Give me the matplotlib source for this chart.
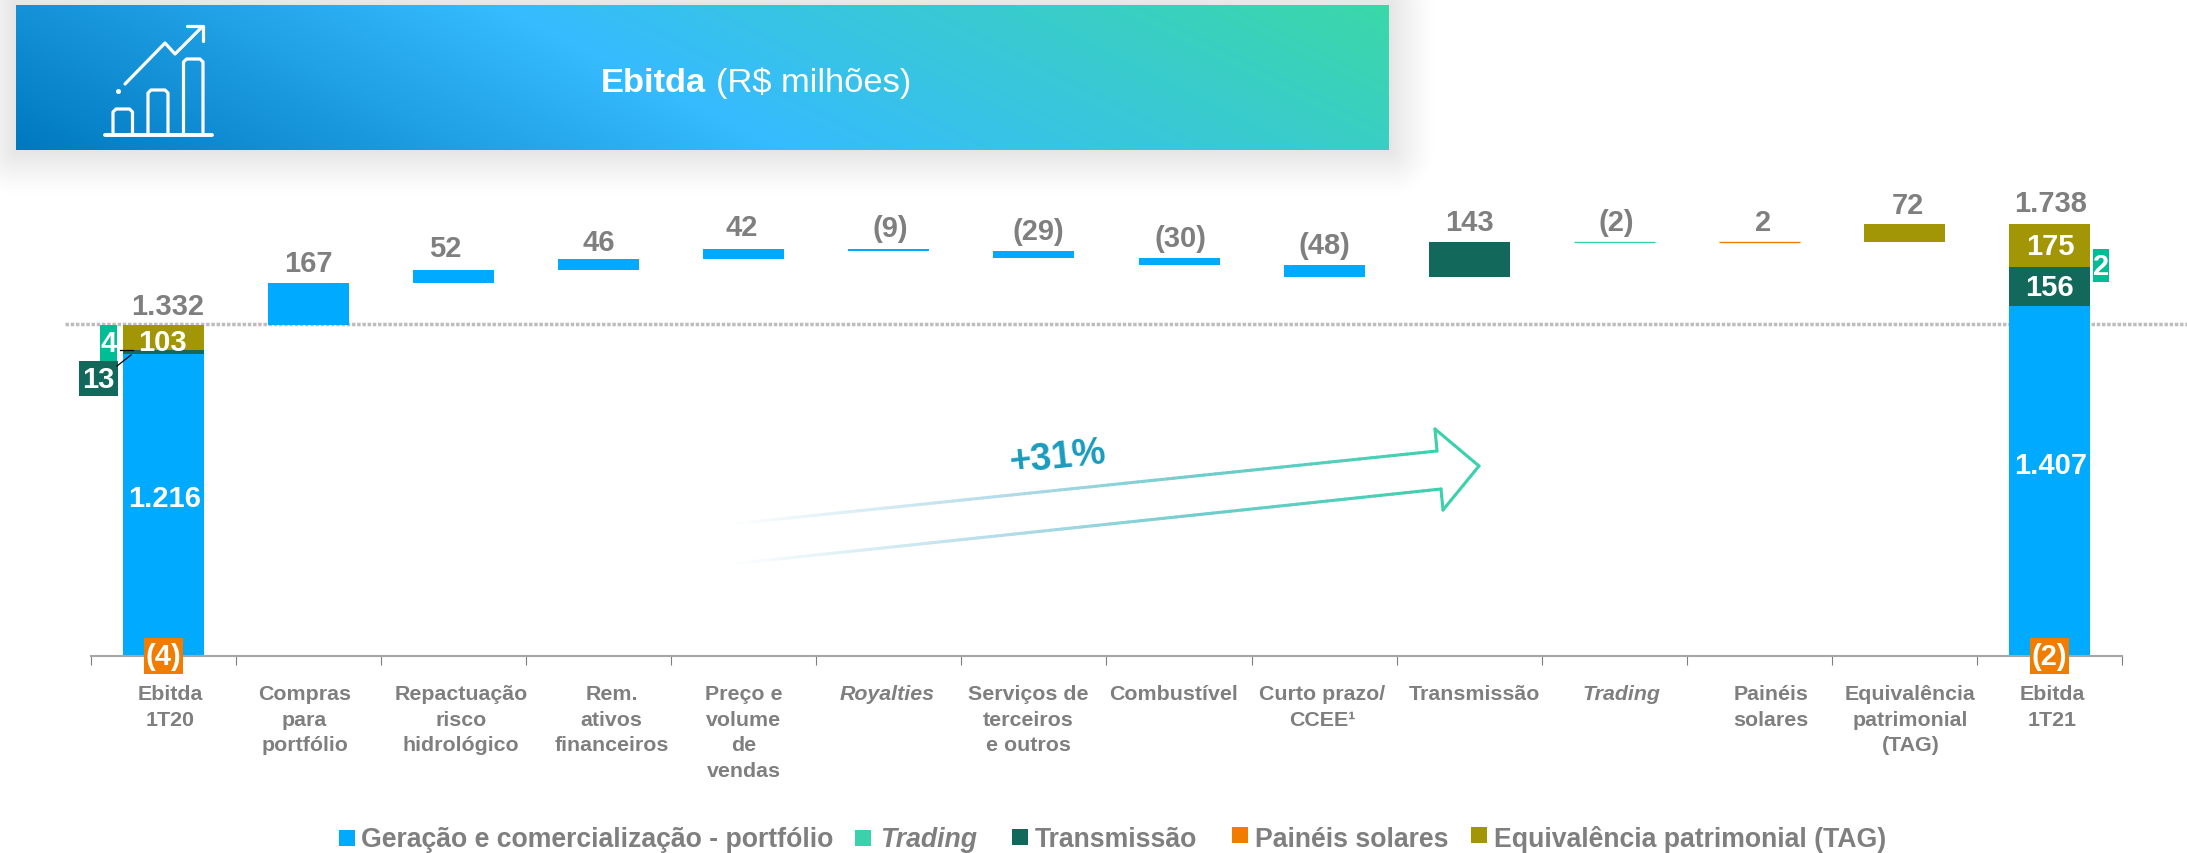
import numpy as np
import matplotlib
matplotlib.use('Agg')
import matplotlib.pyplot as plt
from matplotlib.patches import Rectangle
from matplotlib.collections import LineCollection
from matplotlib.colors import to_rgb

plt.rcParams['font.family'] = ['Liberation Sans', 'DejaVu Sans']

# ============================================================
# DATA
# ============================================================
categories = ['Ebitda\n1T20', 'Compras\npara\nportfólio', 'Repactuação\nrisco\nhidrológico',
              'Rem.\nativos\nfinanceiros', 'Preço e\nvolume\nde\nvendas', 'Royalties',
              'Serviços de\nterceiros\ne outros', 'Combustível', 'Curto prazo/\nCCEE¹',
              'Transmissão', 'Trading', 'Painéis\nsolares',
              'Equivalência\npatrimonial\n(TAG)', 'Ebitda\n1T21']
italic_categories = ['Royalties', 'Trading']

# stacked totals: portfolio, transmission, equity income
total_1t20 = [1216, 13, 103]
total_1t21 = [1407, 156, 175]
total_labels = ['1.332', '1.738']
stack_labels_1t20 = ['1.216', '', '103']
stack_labels_1t21 = ['1.407', '156', '175']

# bridge steps between the totals
steps = [167, 52, 46, 42, -9, -29, -30, -48, 143, -2, 2, 72]
step_labels = ['167', '52', '46', '42', '(9)', '(29)', '(30)', '(48)', '143', '(2)', '2', '72']
step_series = ['gen', 'gen', 'gen', 'gen', 'gen', 'gen', 'gen', 'gen', 'trans', 'trad', 'solar', 'tag']

legend_names = ['Geração e comercialização - portfólio', 'Trading', 'Transmissão',
                'Painéis solares', 'Equivalência patrimonial (TAG)']
growth_label = '+31%'

# ============================================================
# STYLE
# ============================================================
W, H = 2187, 854
colors = {'gen': '#00aaff', 'trad': '#3bd1ac', 'trans': '#12695b', 'solar': '#f07d00', 'tag': '#a39606'}
stack_colors = [colors['gen'], colors['trans'], colors['tag']]
GREY = '#7f7f7f'
VALUE_FS = 21
CAT_FS = 15.4

fig = plt.figure(figsize=(W / 100, H / 100), dpi=100, facecolor='white')

# main axes: baseline at y=657 px, one category = 145 px
ax = fig.add_axes([91 / W, (H - 657) / H, (2122 - 91) / W, (657 - 209.5) / H], zorder=1)
ax.set_xlim(-0.5, 13.5)
ax.set_ylim(0, 1800)
ax.patch.set_alpha(0)

# pixel overlay for header, legend and callout boxes
ov = fig.add_axes([0, 0, 1, 1], zorder=2)
ov.patch.set_alpha(0)
ov.axis('off')


def setpx():
    ov.set_xlim(0, W)
    ov.set_ylim(H, 0)


setpx()

# ============================================================
# BARS
# ============================================================
ax.plot([-0.679, 13.95], [1335, 1335], color='#bdbdbd', lw=2.5, linestyle=(0, (1, 0.5)),
        clip_on=False, zorder=1)

bar_w = 81 / 145.07
for x, stack in ((0, total_1t20), (13, total_1t21)):
    bottom = 0
    for v, c in zip(stack, stack_colors):
        ax.bar(x, v, bottom=bottom, width=bar_w, color=c, zorder=2)
        bottom += v

running = sum(total_1t20)
tops = [running]
for i, (v, s) in enumerate(zip(steps, step_series)):
    lo = min(running, running + v)
    lw = 1.0 if abs(v) < 5 else 0
    ax.bar(i + 1, abs(v), bottom=lo, width=bar_w, color=colors[s], edgecolor=colors[s],
           linewidth=lw, zorder=2)
    tops.append(lo + abs(v))
    running += v
tops.append(sum(total_1t21))

# ============================================================
# VALUE LABELS
# ============================================================
all_labels = [total_labels[0]] + step_labels + [total_labels[1]]
label_dx = [4.5, 0, -8, 0, -2, 1, 4, 1, 0, 0, 2, 4, 3.5, 1]
label_dy = [19, 20, 22, 17, 22, 21, 20, 20, 20, 20, 20, 20, 19, 21]
for i, (lab, top) in enumerate(zip(all_labels, tops)):
    ax.annotate(lab, xy=(i, top), xytext=(label_dx[i], label_dy[i]), textcoords='offset pixels',
                ha='center', va='center', fontsize=VALUE_FS, fontweight='bold', color=GREY,
                annotation_clip=False)


def stack_text(x, stack, labels, dxs, dys):
    bottom = 0
    for v, lab, dx, dy in zip(stack, labels, dxs, dys):
        if lab:
            ax.annotate(lab, xy=(x, bottom + v / 2), xytext=(dx, dy), textcoords='offset pixels',
                        ha='center', va='center', fontsize=VALUE_FS, fontweight='bold',
                        color='white', zorder=5)
        bottom += v


stack_text(0, total_1t20, stack_labels_1t20, [1.5, 0, -1.5], [7, 0, -4])
stack_text(13, total_1t21, stack_labels_1t21, [1, 0, 1], [16, 0, 0])

# ============================================================
# X AXIS
# ============================================================
for s in ('top', 'left', 'right'):
    ax.spines[s].set_visible(False)
ax.spines['bottom'].set_color('#a6a6a6')
ax.spines['bottom'].set_linewidth(1.5)
ax.set_yticks([])
ax.set_xticks(np.arange(-0.5, 14, 1))
ax.set_xticklabels([])
ax.tick_params(axis='x', length=6.5, width=0.8, color='#7f7f7f')

cat_dx = [6.5, -4, 7.5, 13, 0, -2, -6, -6, -2, 5, 7.5, 12, 6, 2.5]
for i, name in enumerate(categories):
    style = 'italic' if name in italic_categories else 'normal'
    ax.annotate(name, xy=(i, 0), xytext=(cat_dx[i], -28), textcoords='offset pixels',
                ha='center', va='top', fontsize=CAT_FS, fontweight='bold', fontstyle=style,
                color=GREY, linespacing=1.44, annotation_clip=False)

# ============================================================
# CALLOUT BOXES
# ============================================================
boxes = [(100, 326, 17, 36, '#00bd96', '4', 108.5, 344),
         (79, 362, 39, 35, colors['trans'], '13', 98, 380),
         (2093, 250, 16, 33, '#00bd96', '2', 2101, 267),
         (144, 639, 39, 36, colors['solar'], '(4)', 163.5, 657),
         (2030, 639, 39, 36, colors['solar'], '(2)', 2049.5, 657)]
for x0, y0, w, h, c, lab, tx, ty in boxes:
    ov.add_patch(Rectangle((x0, y0), w, h, facecolor=c, edgecolor='none', zorder=3))
    ov.text(tx, ty, lab, ha='center', va='center', color='white', fontsize=VALUE_FS,
            fontweight='bold', zorder=4)
ov.plot([120, 133], [351, 351], color='black', lw=0.9, zorder=5)
ov.plot([117, 131], [367, 356], color='black', lw=0.9, zorder=5)

# ============================================================
# HEADER BANNER
# ============================================================
x0, x1, y0, y1 = 16, 1389, 6, 151

# soft grey shadow
sx, sy = np.meshgrid(np.arange(0, 1445), np.arange(0, 205))
dx_s = np.maximum(np.maximum(x0 - sx, sx - x1), 0)
dy_s = np.maximum(np.maximum(y0 - sy, sy - y1), 0)
dist = np.hypot(dx_s, dy_s)
shadow = np.zeros(sx.shape + (4,))
shadow[..., 3] = 0.105 * np.clip(1 - dist / 48, 0, 1) ** 1.3
ov.imshow(shadow, extent=(0, 1445, 205, 0), aspect='auto', zorder=0.5, interpolation='bilinear')

# diagonal gradient
gx, gy = np.meshgrid(np.linspace(0, x1 - x0, 400), np.linspace(0, y1 - y0, 100))
t = (gx + 2 * (y1 - y0 - gy)) / (x1 - x0 + 2 * (y1 - y0))
stops = [0, 0.46, 1]
stop_cols = np.array([to_rgb('#0078bf'), to_rgb('#36bbff'), to_rgb('#3bd8a8')])
grad = np.dstack([np.interp(t, stops, stop_cols[:, k]) for k in range(3)])
ov.imshow(grad, extent=(x0, x1, y1, y0), aspect='auto', zorder=1, interpolation='bilinear')
setpx()

ov.text(601, 83, 'Ebitda', color='white', fontsize=24.8, fontweight='bold', va='center', zorder=2)
ov.text(716, 83, '(R$ milhões)', color='white', fontsize=24.8, va='center', zorder=2)

# icon
icon = {'color': 'white', 'zorder': 2, 'solid_capstyle': 'round', 'solid_joinstyle': 'round'}
ov.plot([105, 212], [136, 136], lw=2.8, **icon)
for bx0, bx1, btop in ((113, 132.5, 110), (148, 168, 91), (183.5, 203, 60)):
    ov.plot([bx0, bx0, bx0 + 3, bx1 - 3, bx1, bx1], [136, btop + 3, btop, btop, btop + 3, 136],
            lw=2.3, **icon)
ov.plot([125, 165, 175, 202], [85, 44, 55, 28], lw=2.3, **icon)
ov.plot([187, 203, 203], [27, 27, 42], lw=2.3, **icon)
ov.plot([118], [92], marker='o', ms=2.6, color='white', zorder=2)

# ============================================================
# GROWTH ARROW
# ============================================================
outline = np.array([[731, 525], [1437, 452], [1435, 430], [1479, 467],
                    [1443, 511], [1441, 490], [731, 565]], dtype=float)
# split into short pieces so the colour can fade along x
segs, seg_cols = [], []
fade_x = [731, 1000, 1200, 1440]
fade_cols = np.array([to_rgb('#ffffff'), to_rgb('#b4dcea'), to_rgb('#6fcccd'), to_rgb('#3bd1ac')])
for a, b in zip(outline[:-1], outline[1:]):
    n = max(int(np.hypot(*(b - a)) / 6), 1)
    pts = np.linspace(a, b, n + 1)
    for p, q in zip(pts[:-1], pts[1:]):
        segs.append([p, q])
        mid = (p[0] + q[0]) / 2
        seg_cols.append([np.interp(mid, fade_x, fade_cols[:, k]) for k in range(3)])
ov.add_collection(LineCollection(segs, colors=seg_cols, linewidths=2.2, zorder=2, capstyle='round'))
ov.text(1058, 458, growth_label, color='#1a9bbd', fontsize=27, fontweight='bold', rotation=6,
        ha='center', va='center', zorder=3)

# ============================================================
# LEGEND
# ============================================================
legend_keys = [colors['gen'], colors['trad'], colors['trans'], colors['solar'], colors['tag']]
legend_key_x = [339, 855, 1012, 1232, 1471]
legend_key_y = [831, 831, 830, 828, 828]
legend_text_x = [361, 880, 1035, 1255, 1494]
for name, c, kx, ky, tx in zip(legend_names, legend_keys, legend_key_x, legend_key_y, legend_text_x):
    ov.add_patch(Rectangle((kx, ky), 16, 16, facecolor=c, edgecolor='none', zorder=3))
    style = 'italic' if name in italic_categories else 'normal'
    ov.text(tx, 840, name, ha='left', va='center', fontsize=19.15, fontweight='bold',
            fontstyle=style, color=GREY, zorder=3)

fig.savefig('out.png', dpi=100)
plt.close(fig)
